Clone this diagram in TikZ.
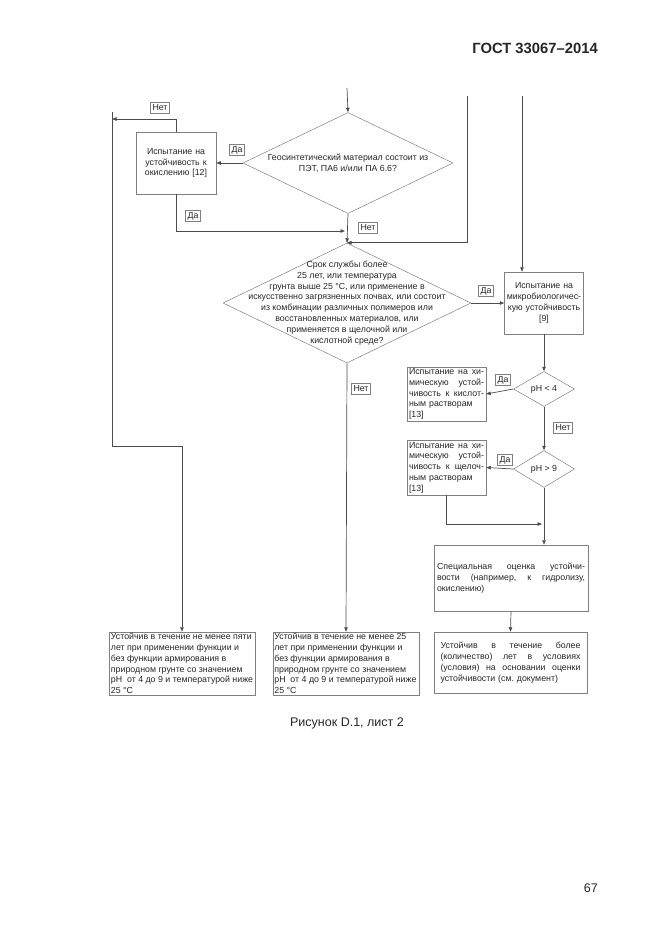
\documentclass[tikz,border=0pt]{standalone}
\usepackage{fontspec}
\setmainfont{Liberation Sans}
\usetikzlibrary{positioning, shapes.geometric, arrows.meta, calc}
\frenchspacing

% one justified line of a box text
\newcommand{\jl}[1]{\leavevmode\hbox to \hsize{\spaceskip=0.3em plus 1fil\relax #1}\\}

\begin{document}
\begin{tikzpicture}[
    x=1pt, y=-1pt,
    txt/.style={font=\fontsize{8.8}{10.8}\selectfont, text=black!85},
    box/.style={txt, rectangle, draw=black!50, line width=0.5pt, inner xsep=2pt, inner ysep=0pt, align=left},
    decision/.style={diamond, draw=black!50, line width=0.5pt, inner sep=0pt},
    tag/.style={txt, rectangle, draw=black!50, line width=0.4pt, inner xsep=2pt, inner ysep=1pt, minimum height=11pt},
    arrow/.style={-{Triangle[length=4.5pt, width=3.5pt]}, draw=black!70, line width=0.7pt}
]
\useasboundingbox (0,0) rectangle (661,935);

% Page header, caption and number
\node[font=\fontsize{14.8}{16}\selectfont\bfseries, text=black!85, anchor=east, inner sep=0pt] (gost) at (598,48) {ГОСТ 33067–2014};
\node[font=\fontsize{12.5}{14}\selectfont, text=black!85, inner sep=0pt] (caption) at (347,723) {Рисунок D.1, лист 2};
\node[font=\fontsize{12.5}{14}\selectfont, text=black!85, anchor=east, inner sep=0pt] (pagenum) at (598,888) {67};

% Incoming lines from sheet 1
\coordinate (inmain) at (347,88);
\coordinate (inmid) at (467,96);
\coordinate (inright) at (522,96);

% Material question
\node[decision, minimum width=210pt, minimum height=101pt] (geo) at (348,163) {};
\node[txt, align=center] (geotext) at (geo) {Геосинтетический материал состоит из\\ПЭТ, ПА6 и/или ПА 6.6?};

% Oxidation test
\node[box, minimum height=62pt, text width=76pt, align=center] (oxid) at (176,163) {Испытание на\\устойчивость к\\окислению [12]};

% Service life question
\node[decision, minimum width=248pt, minimum height=120pt] (life) at (347,303) {};
\node[txt, align=center] (lifetext) at (life) {Срок службы более\\25 лет, или температура\\грунта выше 25 °С, или применение в\\искусственно загрязненных почвах, или состоит\\из комбинации различных полимеров или\\восстановленных материалов, или\\применяется в щелочной или\\кислотной среде?};

% Microbiological test
\node[box, minimum height=62pt, text width=75pt, align=center] (micro) at (544,303) {Испытание на\\микробиологичес-\\кую устойчивость\\{[9]}};

% pH branches
\node[decision, txt, minimum width=61pt, minimum height=35pt] (ph4) at (544,389) {pH < 4};
\node[decision, txt, minimum width=61pt, minimum height=37pt] (ph9) at (544,469) {pH > 9};
\node[box, minimum height=54pt, text width=75pt] (acid) at (446.5,394) {\jl{Испытание на хи-}\jl{мическую устой-}\jl{чивость к кислот-}ным растворам\\{[13]}};
\node[box, minimum height=55pt, text width=75pt] (alk) at (446.5,467.5) {\jl{Испытание на хи-}\jl{мическую устой-}\jl{чивость к щелоч-}ным растворам\\{[13]}};

% Special evaluation
\node[box, minimum height=66pt, text width=148pt, inner xsep=3pt] (spec) at (511,578) {\jl{Специальная оценка устойчи-}\jl{вости (например, к гидролизу,}окислению)};

% Results
\node[box, minimum height=63pt, minimum width=146pt, inner xsep=1pt] (resA) at (182,663.5) {Устойчив в течение не менее пяти\\лет при применении функции и\\без функции армирования в\\природном грунте со значением\\pH~ от 4 до 9 и температурой ниже\\25 °С};
\node[box, minimum height=63pt, minimum width=146pt, inner xsep=1pt] (resB) at (346,663.5) {Устойчив в течение не менее 25\phantom{ ят}\\лет при применении функции и\\без функции армирования в\\природном грунте со значением\\pH~ от 4 до 9 и температурой ниже\\25 °С};
\node[box, minimum height=61pt, text width=140pt, inner xsep=6.5pt] (resC) at (510.5,662.5) {\jl{Устойчив в течение более}\jl{(количество) лет в условиях}\jl{(условия) на основании оценки}устойчивости (см. документ)};

% Helper points for the side lines
\coordinate (ltop) at (112,112);
\coordinate (lhit) at (112,119);
\coordinate (lcorner) at (112,446);
\coordinate (oxjoin) at (345,231);
\coordinate (alkjoin) at (542,524);

% Connections
\draw[arrow] (inmain) -- (geo.north);
\draw[arrow] (inmid) |- (life.north);
\draw[arrow] (inright) -- (inright |- micro.north);
\draw[arrow] (geo.west) -- (oxid.east);
\draw[arrow] (oxid.north) |- (lhit);
\draw[arrow] (ltop) -- (lcorner) -| (resA.north);
\draw[arrow] (oxid.south) |- (oxjoin);
\draw[arrow] (geo.south) -- (life.north);
\draw[arrow] (life.east) -- (micro.west);
\draw[arrow] (life.south) -- (resB.north);
\draw[arrow] (micro.south) -- (ph4.north);
\draw[arrow] (ph4.west) -- (acid.east);
\draw[arrow] (ph4.south) -- (ph9.north);
\draw[arrow] (ph9.west) -- (alk.east);
\draw[arrow] (alk.south) |- (alkjoin);
\draw[arrow] (ph9.south) -- (ph9.south |- spec.north);
\draw[arrow] (spec.south) -- (resC.north);

% Yes / No tags
\node[tag] (yes1) at (237,150) {Да};
\node[tag] (no1) at (160,108) {Нет};
\node[tag] (yes2) at (193,216) {Да};
\node[tag] (no2) at (368,228) {Нет};
\node[tag] (yes3) at (486,291) {Да};
\node[tag] (no3) at (361,389) {Нет};
\node[tag] (yes4) at (503,380) {Да};
\node[tag] (no4) at (563,428) {Нет};
\node[tag] (yes5) at (505,460) {Да};

\end{tikzpicture}
\end{document}
